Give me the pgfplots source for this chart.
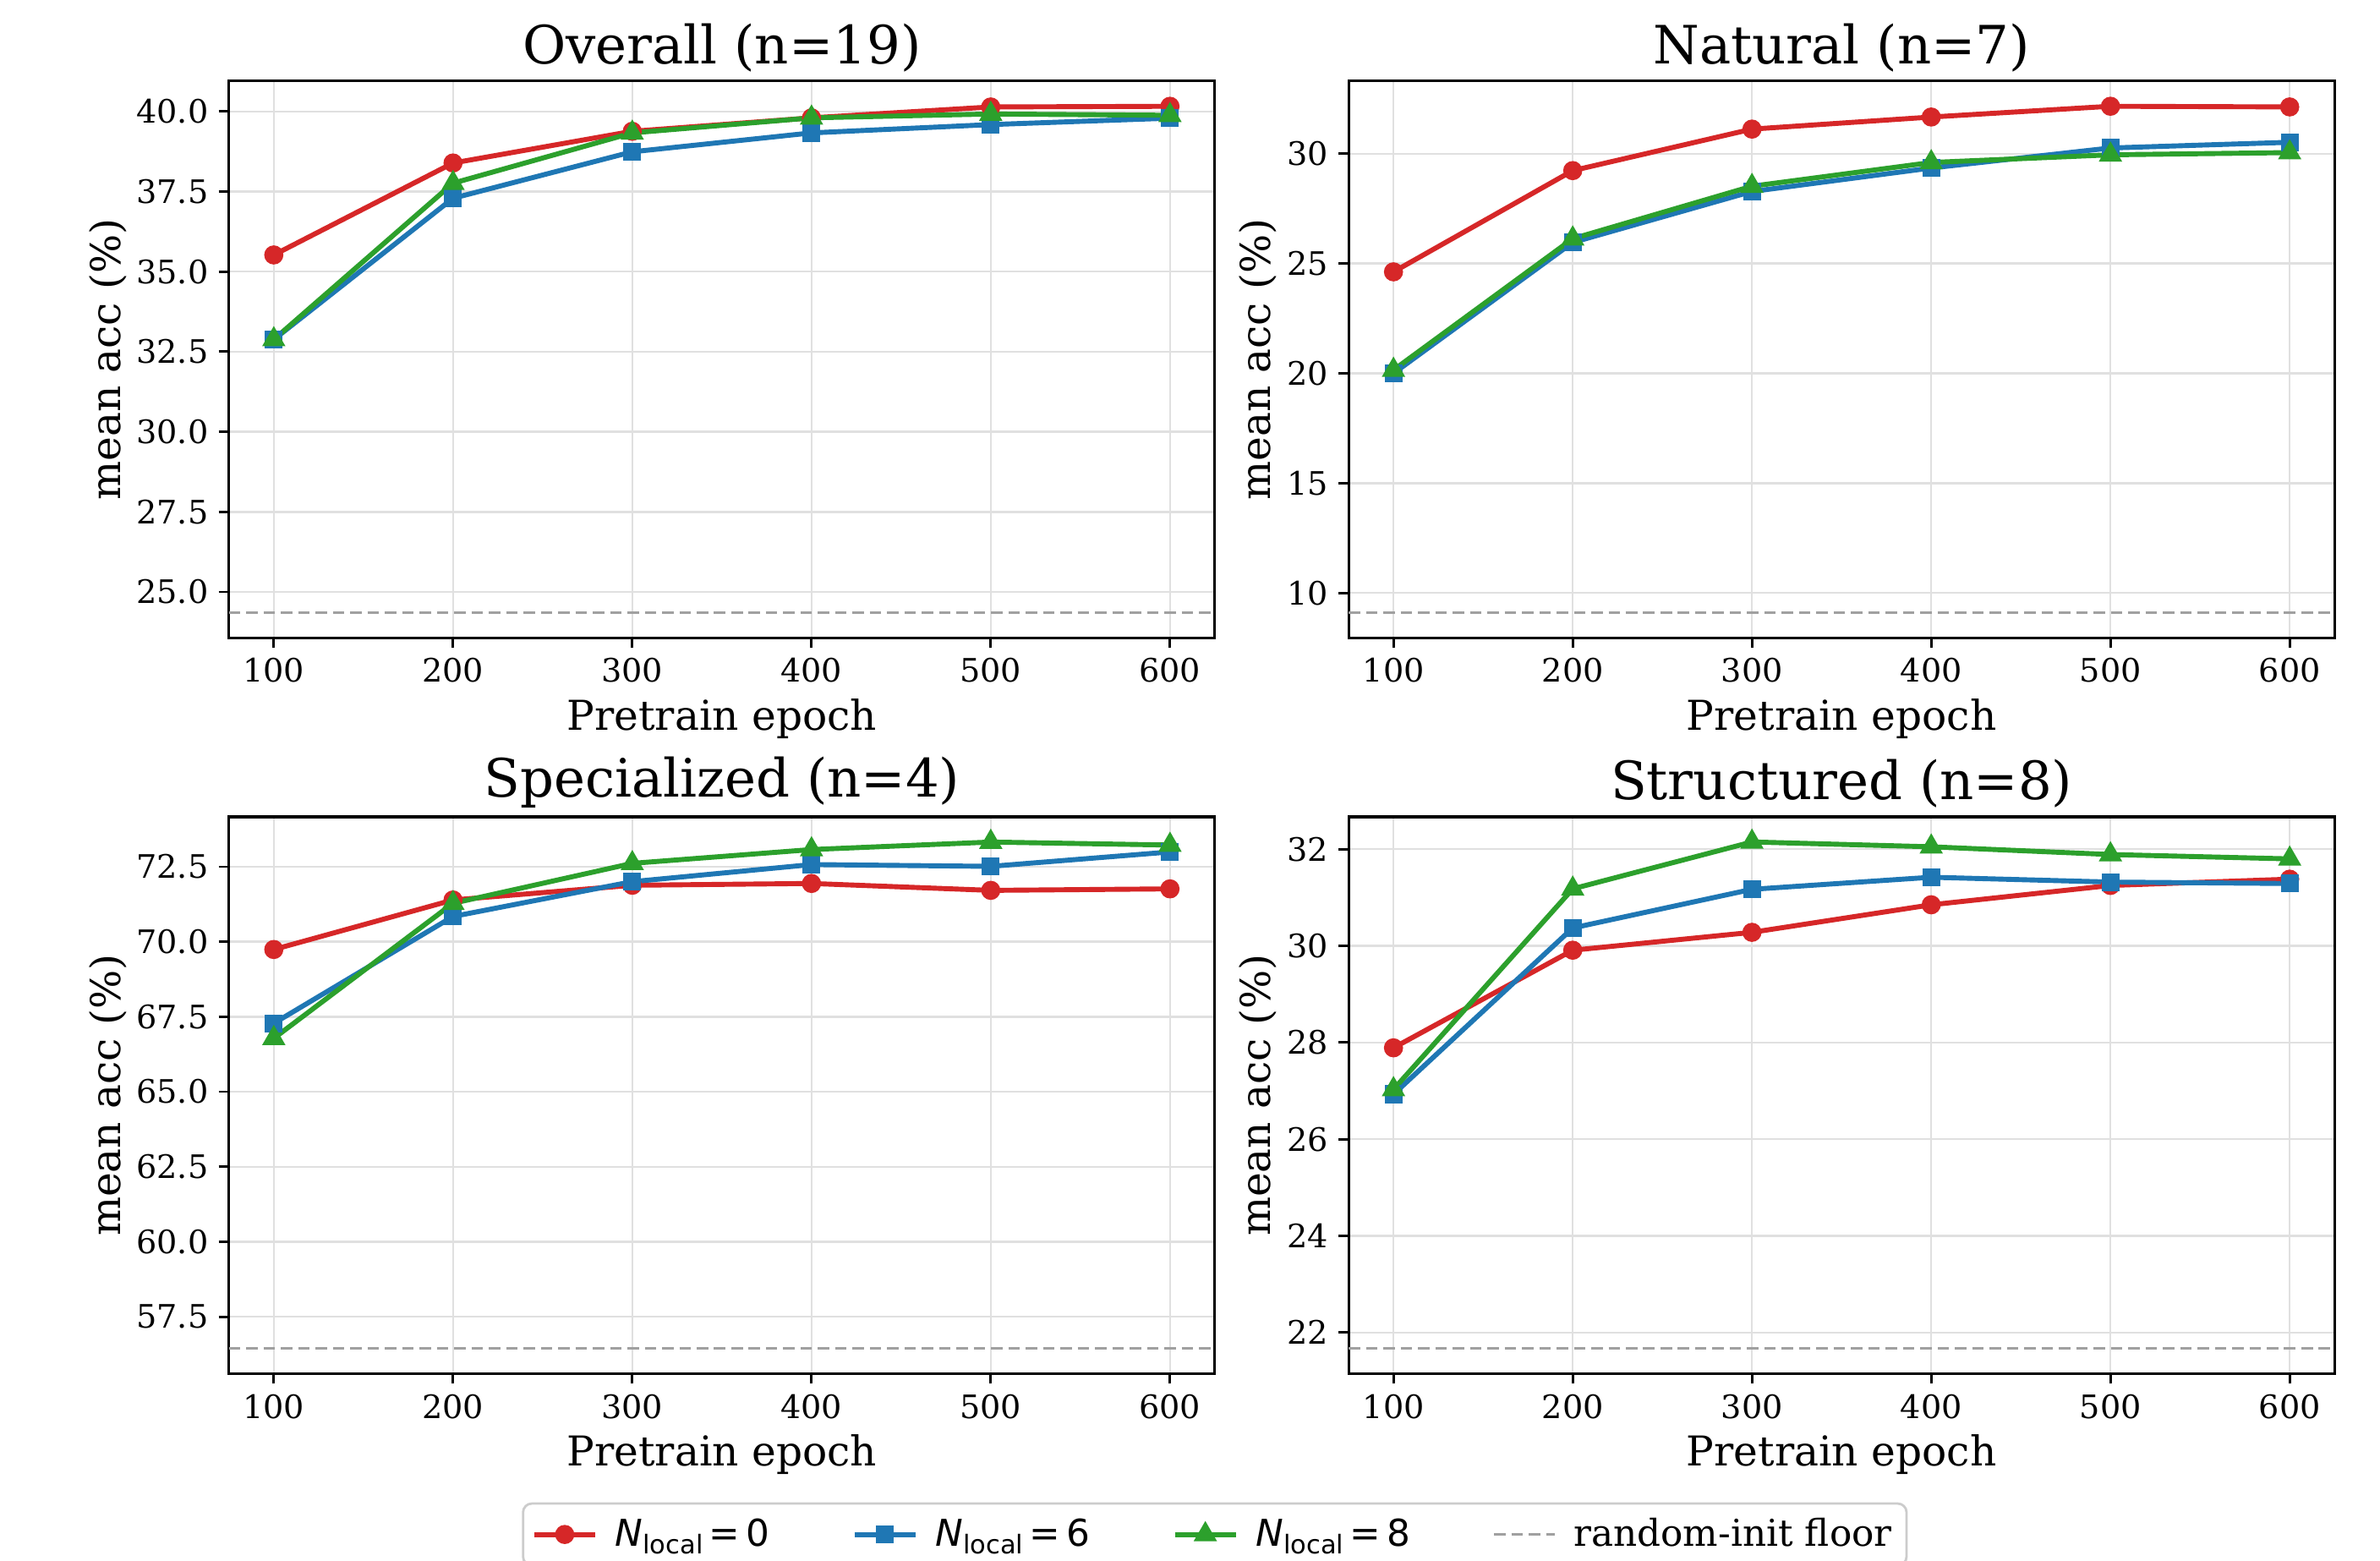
\documentclass[border=0pt]{standalone}
\usepackage{fontspec}
\setmainfont{DejaVu Serif}
\newfontfamily\dvs{DejaVu Sans}
\usepackage{pgfplots}
\pgfplotsset{compat=1.18}

\definecolor{tred}{RGB}{214,39,40}
\definecolor{tblue}{RGB}{31,119,180}
\definecolor{tgreen}{RGB}{44,160,44}
\definecolor{floorgray}{RGB}{160,160,160}

% N_local label as matplotlib mathtext (DejaVu Sans)
\newcommand{\nloc}[1]{{\dvs\itshape N}{\dvs\raisebox{-0.2em}{\fontsize{8.8}{9}\selectfont local}}{\dvs\,=\,#1}}

\pgfplotsset{
  panel/.style={
    scale only axis, width=335.8pt, height=189.6pt,
    anchor=south west,
    xmin=75, xmax=625, xtick={100,200,...,600},
    tick pos=left, tick align=outside,
    major tick length=3.5pt,
    every tick/.style={black, line width=0.8pt},
    grid=major, grid style={black!12, line width=0.7pt},
    axis line style={line width=0.9pt},
    tick label style={font=\fontsize{11}{13}\selectfont},
    label style={font=\fontsize{14}{16}\selectfont},
    title style={font=\fontsize{18}{21}\selectfont, at={(0.5,1)}, anchor=south, yshift=-6.5pt},
    xlabel={Pretrain epoch}, ylabel={mean acc (\%)},
    xlabel shift={-1.5pt}, ylabel shift={-3.5pt},
    /pgf/number format/assume math mode=true,
    clip=false,
  },
  sred/.style={tred, line width=1.7pt, mark=*, mark size=2.4pt, mark options={solid, fill=tred}},
  sblue/.style={tblue, line width=1.7pt, mark=square*, mark size=2.2pt, mark options={solid, fill=tblue}},
  sgreen/.style={tgreen, line width=1.7pt, mark=triangle*, mark size=2.9pt, mark options={solid, fill=tgreen}},
  sfloor/.style={floorgray, line width=0.9pt, dash pattern=on 3.9pt off 2pt},
}

\begin{document}
\begin{tikzpicture}
\path[use as bounding box] (0,0) rectangle (810.7pt,531.4pt);

% Overall
\begin{axis}[panel, at={(78pt,314.2pt)}, title={Overall (n=19)},
    ymin=23.57, ymax=40.95, ytick={25,27.5,...,40},
    yticklabel style={/pgf/number format/.cd, fixed, fixed zerofill, precision=1}]
\addplot[sfloor] coordinates {(75,24.36)(625,24.36)};
\addplot[sred] coordinates {(100,35.52)(200,38.39)(300,39.38)(400,39.80)(500,40.14)(600,40.16)};
\addplot[sblue] coordinates {(100,32.88)(200,37.29)(300,38.74)(400,39.33)(500,39.59)(600,39.79)};
\addplot[sgreen] coordinates {(100,32.88)(200,37.76)(300,39.33)(400,39.80)(500,39.92)(600,39.88)};
\end{axis}

% Natural
\begin{axis}[panel, at={(459.4pt,314.2pt)}, title={Natural (n=7)},
    ymin=7.96, ymax=33.31, ytick={10,15,...,30}]
\addplot[sfloor] coordinates {(75,9.11)(625,9.11)};
\addplot[sred] coordinates {(100,24.62)(200,29.23)(300,31.12)(400,31.67)(500,32.16)(600,32.13)};
\addplot[sblue] coordinates {(100,20.00)(200,25.96)(300,28.28)(400,29.35)(500,30.26)(600,30.52)};
\addplot[sgreen] coordinates {(100,20.15)(200,26.13)(300,28.52)(400,29.60)(500,29.95)(600,30.05)};
\end{axis}

% Specialized (carries the shared legend)
\begin{axis}[panel, at={(78pt,63.6pt)}, title={Specialized (n=4)},
    ymin=55.61, ymax=74.16, ytick={57.5,60,...,72.5},
    yticklabel style={/pgf/number format/.cd, fixed, fixed zerofill, precision=1},
    legend columns=4,
    legend image code/.code={\draw[mark repeat=2,mark phase=2,#1] plot coordinates {(0pt,0pt)(10.35pt,0pt)(20.7pt,0pt)};},
    legend style={at={(1.0,-0.2314)}, anchor=north, draw=black!20, rounded corners=3pt,
      line width=0.8pt, fill=white, font=\fontsize{12.6}{14}\selectfont,
      inner xsep=3pt, inner ysep=3pt,
      /tikz/every odd column/.append style={column sep=4pt},
      /tikz/every even column/.append style={column sep=26pt}},
    legend cell align=left]
\addplot[sred] coordinates {(100,69.74)(200,71.39)(300,71.88)(400,71.94)(500,71.71)(600,71.76)};
\addlegendentry{\nloc{0}}
\addplot[sblue] coordinates {(100,67.28)(200,70.84)(300,72.00)(400,72.57)(500,72.51)(600,72.99)};
\addlegendentry{\nloc{6}}
\addplot[sgreen] coordinates {(100,66.78)(200,71.28)(300,72.61)(400,73.07)(500,73.32)(600,73.22)};
\addlegendentry{\nloc{8}}
\addplot[sfloor] coordinates {(75,56.45)(625,56.45)};
\addlegendentry{random-init floor}
\end{axis}

% Structured
\begin{axis}[panel, at={(459.4pt,63.6pt)}, title={Structured (n=8)},
    ymin=21.15, ymax=32.67, ytick={22,24,...,32}]
\addplot[sfloor] coordinates {(75,21.67)(625,21.67)};
\addplot[sred] coordinates {(100,27.89)(200,29.91)(300,30.28)(400,30.85)(500,31.25)(600,31.38)};
\addplot[sblue] coordinates {(100,26.93)(200,30.37)(300,31.17)(400,31.42)(500,31.32)(600,31.29)};
\addplot[sgreen] coordinates {(100,27.03)(200,31.18)(300,32.15)(400,32.05)(500,31.89)(600,31.80)};
\end{axis}
\end{tikzpicture}
\end{document}
